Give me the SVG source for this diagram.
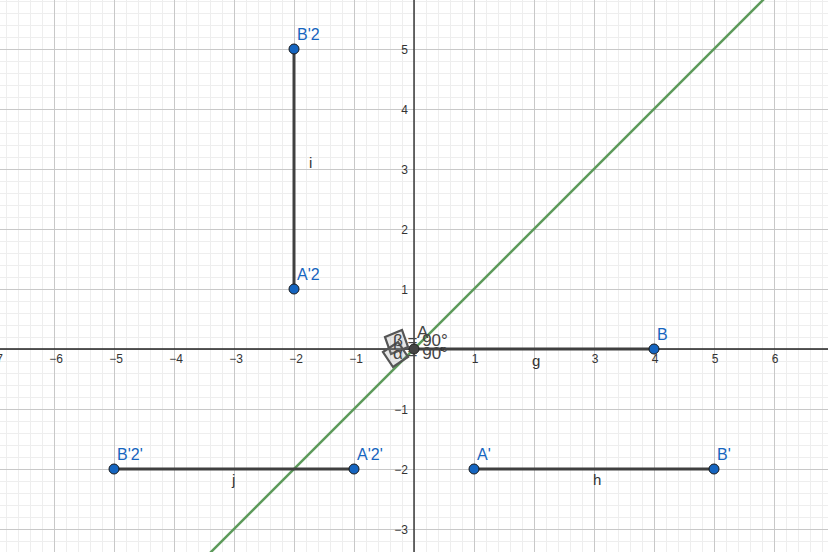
<svg xmlns="http://www.w3.org/2000/svg" width="828" height="552" viewBox="0 0 828 552">
<defs>
<pattern id="minor" x="6" y="1" width="12" height="12" patternUnits="userSpaceOnUse">
<path d="M0.5 0V12M0 0.5H12" stroke="#eeeeee" stroke-width="1" fill="none"/>
</pattern>
<pattern id="major" x="54" y="49" width="60" height="60" patternUnits="userSpaceOnUse">
<path d="M0.5 0V60M0 0.5H60" stroke="#c8c8c8" stroke-width="1" fill="none"/>
</pattern>
</defs>
<style>
.tick{font-family:"Liberation Sans",Arial,sans-serif;font-size:12px;fill:#333}
.pl{font-family:"Liberation Sans",Arial,sans-serif;font-size:16px;fill:#1565c0}
.sl{font-family:"Liberation Sans",Arial,sans-serif;font-size:15px;fill:#333}
.seg{stroke:#404040;stroke-width:3;fill:none}
.pt{fill:#1565c0;stroke:#1a1a1a;stroke-width:1}
.ang{fill:#888;fill-opacity:0.2;stroke:#555;stroke-width:2.2}
.al{font-family:"Liberation Sans",Arial,sans-serif;font-size:17px;fill:#444}
</style>
<rect width="828" height="552" fill="#fff"/>
<rect width="828" height="552" fill="url(#minor)"/>
<rect width="828" height="552" fill="url(#major)"/>
<g id="axes" stroke="#222" stroke-width="1.3">
<line x1="0" y1="349" x2="828" y2="349"/>
<line x1="414" y1="0" x2="414" y2="552"/>
</g>
<g id="ticks" class="tick" text-anchor="middle">
<text x="-4" y="363">−7</text>
<text x="56" y="363">−6</text>
<text x="116" y="363">−5</text>
<text x="176" y="363">−4</text>
<text x="236" y="363">−3</text>
<text x="296" y="363">−2</text>
<text x="356" y="363">−1</text>
<text x="475" y="363">1</text>
<text x="595" y="363">3</text>
<text x="655" y="363">4</text>
<text x="715" y="363">5</text>
<text x="775" y="363">6</text>
</g>
<g class="tick" text-anchor="end">
<text x="408" y="54">5</text>
<text x="408" y="114">4</text>
<text x="408" y="174">3</text>
<text x="408" y="234">2</text>
<text x="408" y="294">1</text>
<text x="408" y="414">−1</text>
<text x="408" y="474">−2</text>
<text x="408" y="534">−3</text>
</g>
<g id="connectors">
<line id="f" x1="210" y1="553" x2="764" y2="-1" stroke="#5c9a5a" stroke-width="2.5"/>
<line id="i" class="seg" x1="294" y1="289" x2="294" y2="49"/>
<line id="g" class="seg" x1="414" y1="349" x2="654" y2="349"/>
<line id="h" class="seg" x1="474" y1="469" x2="714" y2="469"/>
<line id="j" class="seg" x1="114" y1="469" x2="354" y2="469"/>
</g>
<g id="seglabels" class="sl">
<text x="532" y="366">g</text>
<text x="309" y="168">i</text>
<text x="593" y="485">h</text>
<text x="232" y="485">j</text>
</g>
<g id="angles">
<polygon class="ang" points="385,337 402,330 408,347 391,354"/>
<polygon class="ang" points="383,352 398,342 408,357 393,367"/>
<circle cx="442" cy="349" r="2" fill="#333"/>
</g>
<g id="A"><circle cx="414" cy="349" r="5" fill="#444" stroke="#222" stroke-width="1"/><text class="al" x="417" y="338" fill="#666">A</text></g>
<g id="anglelabels">
<text class="al" x="393" y="346">β = 90°</text>
<text class="al" x="393" y="359">α = 90°</text>
</g>
<g id="B"><circle class="pt" cx="654" cy="349" r="5"/><text class="pl" x="657" y="340">B</text></g>
<g id="A2"><circle class="pt" cx="294" cy="289" r="5"/><text class="pl" x="297" y="280">A'2</text></g>
<g id="B2"><circle class="pt" cx="294" cy="49" r="5"/><text class="pl" x="297" y="40">B'2</text></g>
<g id="Ap"><circle class="pt" cx="474" cy="469" r="5"/><text class="pl" x="477" y="460">A'</text></g>
<g id="Bp"><circle class="pt" cx="714" cy="469" r="5"/><text class="pl" x="717" y="460">B'</text></g>
<g id="B2p"><circle class="pt" cx="114" cy="469" r="5"/><text class="pl" x="117" y="460">B'2'</text></g>
<g id="A2p"><circle class="pt" cx="354" cy="469" r="5"/><text class="pl" x="357" y="460">A'2'</text></g>
</svg>
